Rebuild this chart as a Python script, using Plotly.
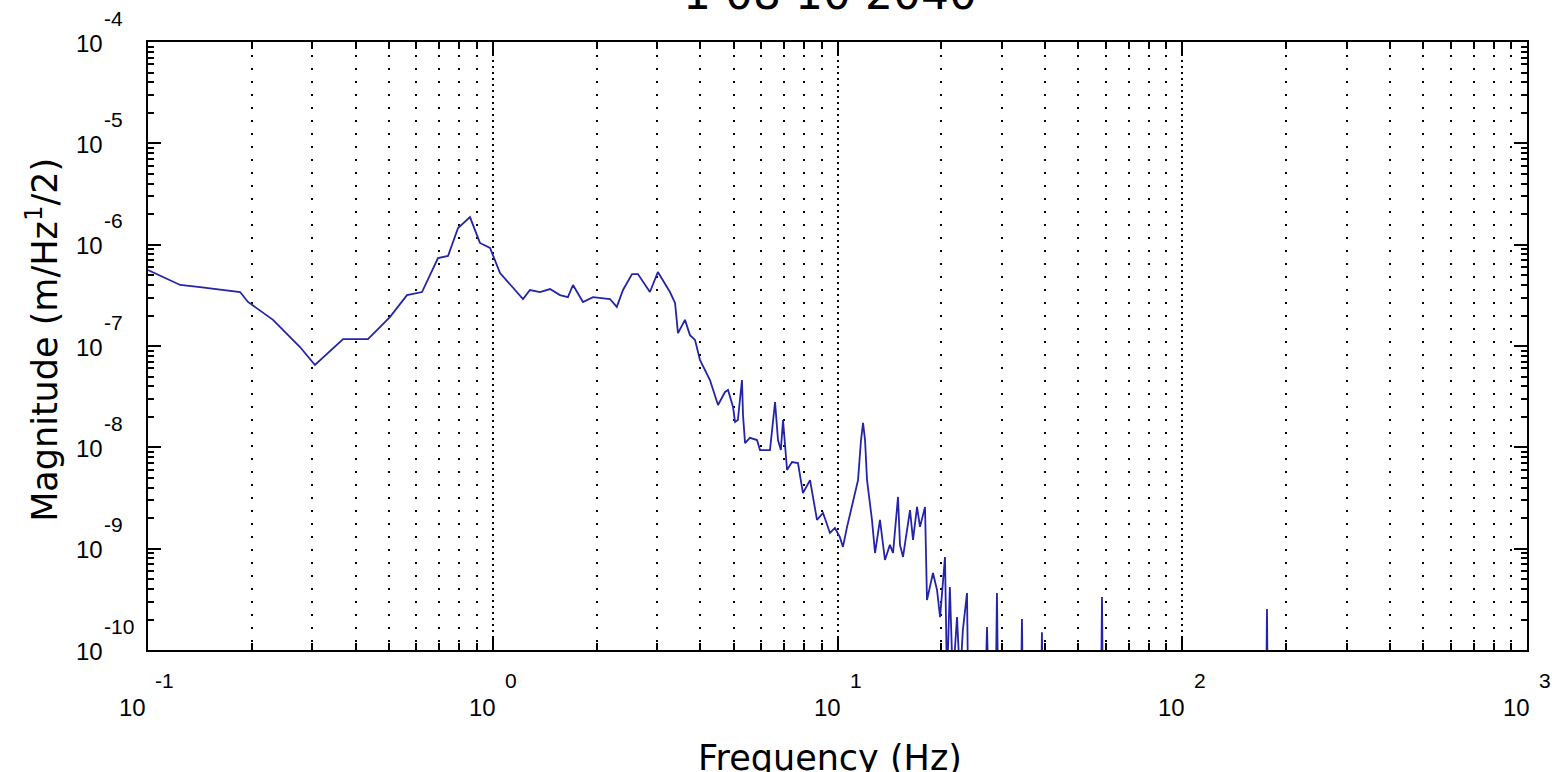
import plotly.graph_objects as go

# ---- data ----
freq_hz = [
    0.1, 0.124, 0.1416, 0.185, 0.195, 0.2305, 0.276, 0.305, 0.368, 0.4346,
    0.503, 0.564, 0.6235, 0.6937, 0.7418, 0.793, 0.859, 0.918, 0.982, 1.05,
    1.224, 1.282, 1.371, 1.466, 1.567, 1.652, 1.709, 1.827, 1.953, 2.188,
    2.29, 2.387, 2.535, 2.637, 2.857, 3.013, 3.266, 3.379, 3.446, 3.611,
    3.733, 3.861, 3.99, 4.266, 4.502, 4.718, 4.814, 4.977, 5.044, 5.14,
    5.284, 5.32, 5.393, 5.57, 5.842, 5.96, 6.37, 6.59, 6.72, 6.85,
    6.95, 7.14, 7.38, 7.68, 7.94, 8.325, 8.72, 9.08, 9.51, 9.83,
    10.16, 10.37, 10.66, 11.09, 11.47, 11.7, 11.86, 12.02, 12.18, 12.59,
    12.85, 13.28, 13.73, 14.19, 14.49, 14.98, 15.18, 15.49, 16.23, 16.56,
    17.01, 17.35, 17.94, 18.18, 18.92, 19.44, 19.84, 20.5, 20.78, 21.18,
    21.6, 22.22, 22.67, 23.1, 23.75, 23.91, 26.9, 27.14, 27.4, 28.8,
    29.01, 29.2, 34.1, 34.28, 34.45, 39.0, 39.17, 39.35, 58.2, 58.5,
    58.8, 175.3, 176.1, 176.9, 1000,
]
magnitude = [
    5.62e-7, 4.0e-7, 3.82e-7, 3.41e-7, 2.72e-7, 1.81e-7, 9.77e-8, 6.49e-8, 1.17e-7, 1.17e-7,
    1.93e-7, 3.18e-7, 3.41e-7, 7.38e-7, 7.73e-7, 1.46e-6, 1.87e-6, 1.04e-6, 9.27e-7, 5.25e-7,
    2.91e-7, 3.57e-7, 3.41e-7, 3.65e-7, 3.18e-7, 3.04e-7, 4.0e-7, 2.72e-7, 3.04e-7, 2.91e-7,
    2.43e-7, 3.57e-7, 5.13e-7, 5.13e-7, 3.41e-7, 5.37e-7, 3.41e-7, 2.66e-7, 1.34e-7, 1.81e-7,
    1.28e-7, 1.15e-7, 7.28e-8, 4.62e-8, 2.62e-8, 3.52e-8, 3.68e-8, 2.50e-8, 1.78e-8, 1.86e-8,
    4.62e-8, 2.08e-8, 1.10e-8, 1.24e-8, 1.18e-8, 9.4e-9, 9.4e-9, 2.80e-8, 1.18e-8, 9.4e-9,
    1.86e-8, 5.97e-9, 7.16e-9, 7.0e-9, 3.54e-9, 4.75e-9, 1.92e-9, 2.25e-9, 1.43e-9, 1.60e-9,
    1.30e-9, 1.04e-9, 1.64e-9, 2.82e-9, 4.75e-9, 1.18e-8, 1.74e-8, 1.18e-8, 4.75e-9, 1.92e-9,
    9.06e-10, 1.92e-9, 7.73e-10, 1.09e-9, 9.06e-10, 3.24e-9, 1.09e-9, 8.28e-10, 2.40e-9, 1.22e-9,
    2.58e-9, 1.64e-9, 2.58e-9, 3.11e-10, 5.75e-10, 3.91e-10, 2.11e-10, 8.28e-10, 5e-11, 4.19e-10,
    5e-11, 2.11e-10, 5e-11, 1.57e-10, 3.65e-10, 5e-11, 5e-11, 1.69e-10, 5e-11, 5e-11,
    3.65e-10, 5e-11, 5e-11, 2.02e-10, 5e-11, 5e-11, 1.5e-10, 5e-11, 5e-11, 3.33e-10,
    5e-11, 5e-11, 2.54e-10, 5e-11, 5e-11,
]

x_decades = [-1, 0, 1, 2, 3]               # exponents of x tick labels
y_decades = [-4, -5, -6, -7, -8, -9, -10]  # exponents of y tick labels
title_text = "1 08 10 2040"
x_title = "Frequency (Hz)"
y_title = "Magnitude (m/Hz<sup>1</sup>/2)"

# ---- figure ----
LINE_BLUE = "#2424a8"
TICK_FONT = dict(family="Liberation Sans, Arial, sans-serif", size=24, color="black")
EXP_FONT = dict(family="Liberation Sans, Arial, sans-serif", size=21, color="black")
TITLE_FONT = dict(family="DejaVu Sans, sans-serif", size=35, color="black")

fig = go.Figure()
fig.add_trace(go.Scatter(x=freq_hz, y=magnitude, mode="lines",
                         line=dict(color=LINE_BLUE, width=1.8), showlegend=False))

x_major = [10.0 ** e for e in x_decades]
x_minor = [d * 10.0 ** e for e in x_decades[:-1] for d in range(2, 10)]
y_major = [10.0 ** e for e in y_decades]
y_minor = [d * 10.0 ** e for e in y_decades[1:] for d in range(2, 10)]

fig.update_xaxes(
    type="log", range=[-1, 3], showline=True, linecolor="black", linewidth=2,
    mirror="ticks", ticks="inside", tickvals=x_major, ticklen=13, tickwidth=2,
    tickcolor="black", showticklabels=False, zeroline=False,
    showgrid=True, gridcolor="black", gridwidth=1.6, griddash="2px,4px",
    minor=dict(tickvals=x_minor, ticks="inside", ticklen=7, tickwidth=2,
               tickcolor="black", showgrid=True, gridcolor="black",
               gridwidth=1.7, griddash="2px,11px"),
)
fig.update_yaxes(
    type="log", range=[-10, -4], showline=True, linecolor="black", linewidth=2,
    mirror="ticks", ticks="inside", tickvals=y_major, ticklen=13, tickwidth=2,
    tickcolor="black", showticklabels=False, zeroline=False, showgrid=False,
    minor=dict(tickvals=y_minor, ticks="inside", ticklen=6, tickwidth=2,
               tickcolor="black", showgrid=False),
)

ann = []
for e in x_decades:
    es = str(e)
    wexp = 11 * len(es)
    total = 26 + 5 + wexp
    ann.append(dict(x=e, y=0, xref="x", yref="paper", text="10", showarrow=False,
                    xanchor="right", yanchor="middle", xshift=26 - total / 2,
                    yshift=-57, font=TICK_FONT))
    ann.append(dict(x=e, y=0, xref="x", yref="paper", text=es, showarrow=False,
                    xanchor="left", yanchor="middle", xshift=31 - total / 2,
                    yshift=-30, font=EXP_FONT))
for e in y_decades:
    ann.append(dict(x=0, y=e, xref="paper", yref="y", text="10", showarrow=False,
                    xanchor="center", yanchor="middle", xshift=-59, yshift=-1,
                    font=TICK_FONT))
    ann.append(dict(x=0, y=e, xref="paper", yref="y", text=str(e), showarrow=False,
                    xanchor="left", yanchor="middle", xshift=-46, yshift=24,
                    font=EXP_FONT))

ann.append(dict(x=0.4946, y=-0.1776, xref="paper", yref="paper", text=x_title,
                showarrow=False, xanchor="center", yanchor="middle", font=TITLE_FONT))
ann.append(dict(x=-0.0769, y=0.51, xref="paper", yref="paper", text=y_title,
                showarrow=False, xanchor="center", yanchor="middle", textangle=-90,
                font=TITLE_FONT))
ann.append(dict(x=0.4946, y=1.0345, xref="paper", yref="paper", text=title_text,
                showarrow=False, xanchor="center", yanchor="bottom",
                font=dict(family="DejaVu Sans, sans-serif", size=44, color="black")))

fig.update_layout(
    width=1552, height=772, autosize=False,
    margin=dict(l=148, r=25, t=42, b=122, pad=0),
    paper_bgcolor="white", plot_bgcolor="white",
    annotations=ann, showlegend=False,
)

fig.write_html("out.html", config={"displayModeBar": False})
